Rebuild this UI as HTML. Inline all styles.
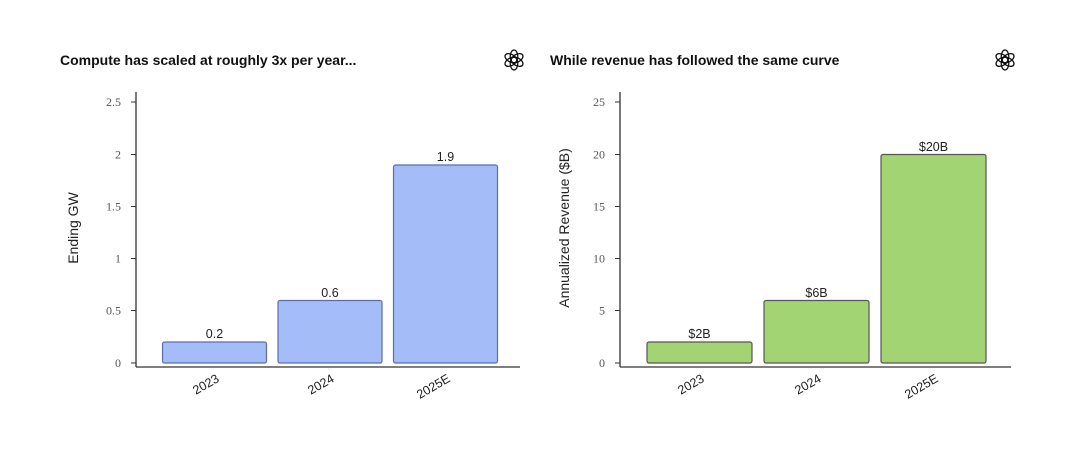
<!DOCTYPE html>
<html><head><meta charset="utf-8"><style>
html,body{margin:0;padding:0;background:#fff;}
svg{display:block;}
.t{font-family:"Liberation Sans",sans-serif;font-weight:bold;font-size:14px;fill:#111;}
.tk{font-family:"Liberation Serif",serif;font-size:12px;fill:#555;}
.lb{font-family:"Liberation Sans",sans-serif;font-size:12.5px;fill:#222;}
.yl{font-family:"Liberation Sans",sans-serif;font-size:14px;fill:#222;}
.xl{font-family:"Liberation Sans",sans-serif;font-size:12.5px;fill:#222;}
</style></head><body>
<svg width="1080" height="454" viewBox="0 0 1080 454" xmlns="http://www.w3.org/2000/svg">
<defs>
<g id="logo" fill="none" stroke="#111" stroke-width="1.3">
  <ellipse cx="0" cy="-3.5" rx="3.8" ry="6.5" transform="rotate(0)"/>
  <ellipse cx="0" cy="-3.5" rx="3.8" ry="6.5" transform="rotate(60)"/>
  <ellipse cx="0" cy="-3.5" rx="3.8" ry="6.5" transform="rotate(120)"/>
  <ellipse cx="0" cy="-3.5" rx="3.8" ry="6.5" transform="rotate(180)"/>
  <ellipse cx="0" cy="-3.5" rx="3.8" ry="6.5" transform="rotate(240)"/>
  <ellipse cx="0" cy="-3.5" rx="3.8" ry="6.5" transform="rotate(300)"/>
</g>
</defs>
<!-- Left chart -->
<text class="t" x="60" y="65">Compute has scaled at roughly 3x per year...</text>
<use href="#logo" x="514" y="60"/>
<line x1="136" y1="92" x2="136" y2="367" stroke="#333" stroke-width="1.3"/>
<line x1="136" y1="367" x2="520" y2="367" stroke="#333" stroke-width="1.3"/>
<g stroke="#333" stroke-width="1">
<line x1="131" y1="102" x2="136" y2="102"/><line x1="131" y1="154.5" x2="136" y2="154.5"/>
<line x1="131" y1="206.5" x2="136" y2="206.5"/><line x1="131" y1="258.5" x2="136" y2="258.5"/>
<line x1="131" y1="310.5" x2="136" y2="310.5"/><line x1="131" y1="363" x2="136" y2="363"/>
</g>
<g class="tk" text-anchor="end">
<text x="121" y="106">2.5</text><text x="121" y="158.5">2</text><text x="121" y="210.5">1.5</text>
<text x="121" y="262.5">1</text><text x="121" y="314.5">0.5</text><text x="121" y="367">0</text>
</g>
<text class="yl" transform="translate(78,228) rotate(-90)" text-anchor="middle">Ending GW</text>
<g fill="#a4bdf8" stroke="#5a6fa8" stroke-width="1.2">
<rect x="162.5" y="342" width="104" height="21" rx="2"/>
<rect x="278" y="300.5" width="104" height="62.5" rx="2"/>
<rect x="393.5" y="165" width="104" height="198" rx="2"/>
</g>
<g class="lb" text-anchor="middle">
<text x="214.5" y="338">0.2</text><text x="330" y="297">0.6</text><text x="445.5" y="161">1.9</text>
</g>
<g class="xl" text-anchor="end">
<text transform="translate(220,381) rotate(-30)">2023</text>
<text transform="translate(335,381) rotate(-30)">2024</text>
<text transform="translate(451,381) rotate(-30)">2025E</text>
</g>
<!-- Right chart -->
<text class="t" x="550" y="65">While revenue has followed the same curve</text>
<use href="#logo" x="1005" y="60"/>
<line x1="620" y1="92" x2="620" y2="367" stroke="#333" stroke-width="1.3"/>
<line x1="620" y1="367" x2="1011" y2="367" stroke="#333" stroke-width="1.3"/>
<g stroke="#333" stroke-width="1">
<line x1="615" y1="102" x2="620" y2="102"/><line x1="615" y1="154.5" x2="620" y2="154.5"/>
<line x1="615" y1="206.5" x2="620" y2="206.5"/><line x1="615" y1="258.5" x2="620" y2="258.5"/>
<line x1="615" y1="310.5" x2="620" y2="310.5"/><line x1="615" y1="363" x2="620" y2="363"/>
</g>
<g class="tk" text-anchor="end">
<text x="605" y="106">25</text><text x="605" y="158.5">20</text><text x="605" y="210.5">15</text>
<text x="605" y="262.5">10</text><text x="605" y="314.5">5</text><text x="605" y="367">0</text>
</g>
<text class="yl" transform="translate(569,228) rotate(-90)" text-anchor="middle">Annualized Revenue ($B)</text>
<g fill="#a3d474" stroke="#555" stroke-width="1.2">
<rect x="647" y="342" width="105" height="21" rx="2"/>
<rect x="764" y="300.5" width="105" height="62.5" rx="2"/>
<rect x="881" y="154.5" width="105" height="208.5" rx="2"/>
</g>
<g class="lb" text-anchor="middle">
<text x="699.5" y="338">$2B</text><text x="816.5" y="297">$6B</text><text x="933.5" y="151">$20B</text>
</g>
<g class="xl" text-anchor="end">
<text transform="translate(705,381) rotate(-30)">2023</text>
<text transform="translate(822,381) rotate(-30)">2024</text>
<text transform="translate(939,381) rotate(-30)">2025E</text>
</g>
</svg>
</body></html>
